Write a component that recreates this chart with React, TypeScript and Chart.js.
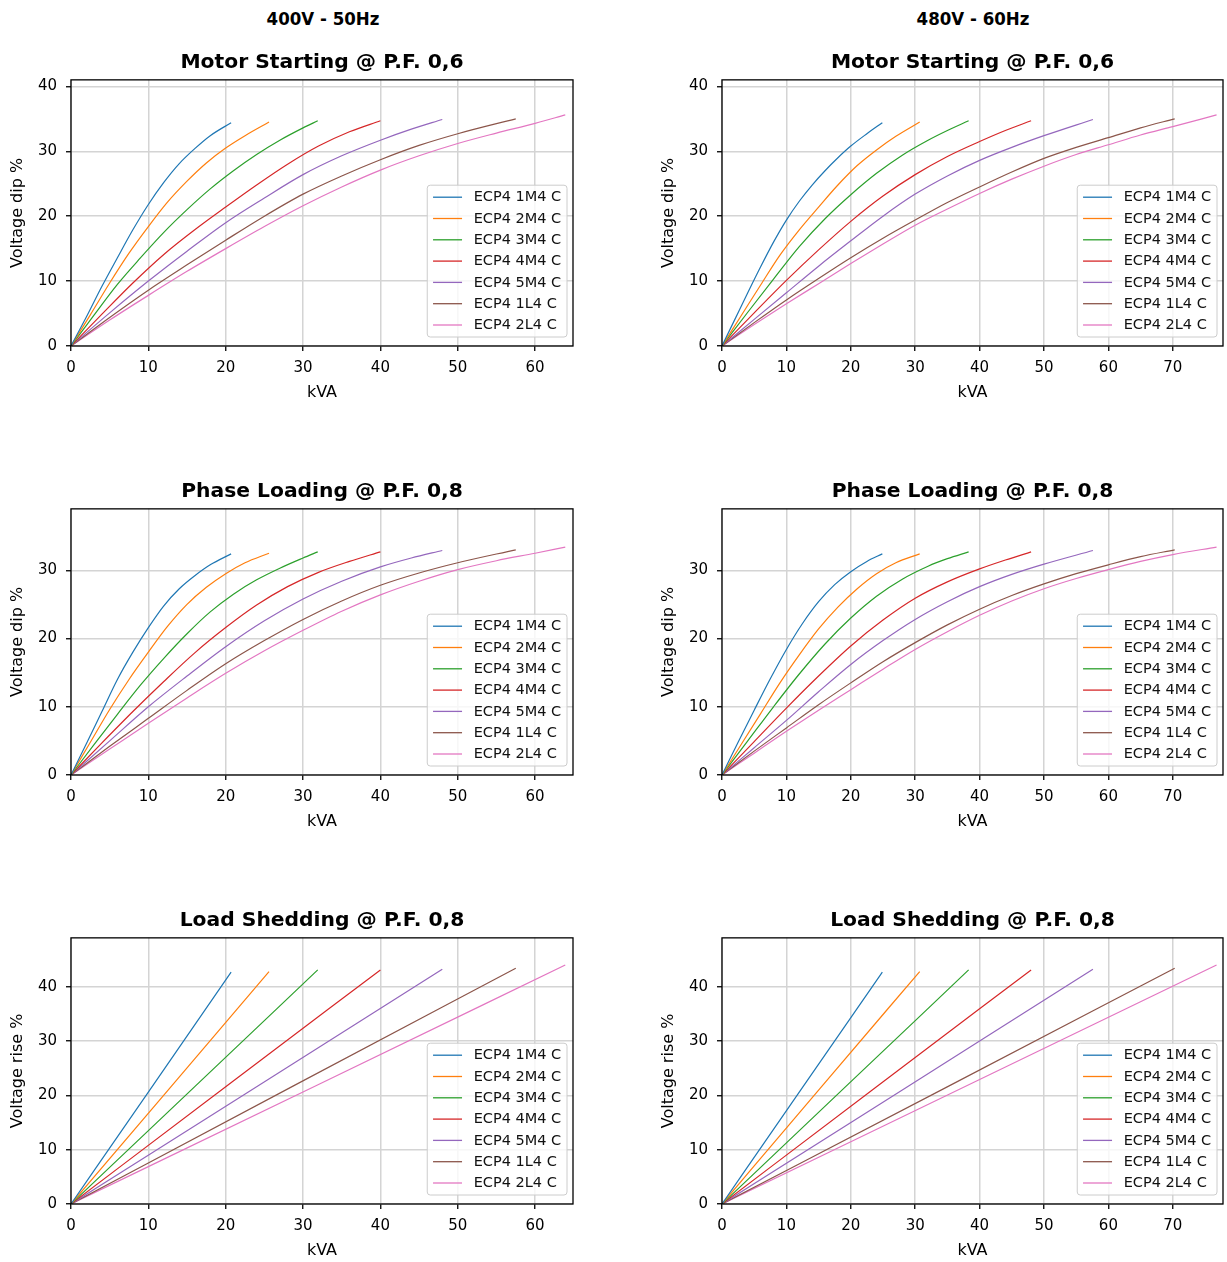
import React, { useEffect, useRef } from 'react';
import { Chart, registerables } from 'chart.js';

Chart.register(...registerables);
Chart.defaults.font.family = "'DejaVu Sans', sans-serif";

// ---------- labels / ticks ----------
const SERIES_LABELS = ['ECP4 1M4 C', 'ECP4 2M4 C', 'ECP4 3M4 C', 'ECP4 4M4 C', 'ECP4 5M4 C', 'ECP4 1L4 C', 'ECP4 2L4 C'];
const SERIES_COLORS = ['#1f77b4', '#ff7f0e', '#2ca02c', '#d62728', '#9467bd', '#8c564b', '#e377c2'];
const COLUMN_TITLES = ['400V - 50Hz', '480V - 60Hz'];
const PANEL_TITLES = ['Motor Starting @ P.F. 0,6', 'Phase Loading @ P.F. 0,8', 'Load Shedding @ P.F. 0,8'];
const Y_TITLES = ['Voltage dip %', 'Voltage dip %', 'Voltage rise %'];
const X_TITLE = 'kVA';

const X_TICKS_50 = [0, 10, 20, 30, 40, 50, 60];
const X_TICKS_60 = [0, 10, 20, 30, 40, 50, 60, 70];
const Y_TICKS_MS = [0, 10, 20, 30, 40];
const Y_TICKS_PL = [0, 10, 20, 30];
const Y_TICKS_LS = [0, 10, 20, 30, 40];
const X_MAX_50 = 64.9;
const X_MAX_60 = 77.8;
const Y_MAX_MS = 41.0;
const Y_MAX_PL = 39.0;
const Y_MAX_LS = 49.0;

// ---------- Motor starting 400V-50Hz ([kVA, %]) ----------
const ms50_1M4 = [[0, 0], [2, 4.5], [4, 9.2], [6, 13.6], [8, 17.9], [10, 21.8], [12, 25.2], [14, 28.1], [16, 30.4], [18, 32.4], [20.7, 34.4]];
const ms50_2M4 = [[0, 0], [2.5, 4.8], [5, 9.7], [7.5, 14.3], [10, 18.4], [12.5, 22.2], [15, 25.4], [17.5, 28.2], [20, 30.5], [22.5, 32.4], [25.6, 34.5]];
const ms50_3M4 = [[0, 0], [3, 4.8], [6, 9.5], [9, 13.6], [12, 17.5], [15, 21.0], [18, 24.2], [21, 27.0], [24, 29.5], [27, 31.7], [30, 33.6], [31.9, 34.7]];
const ms50_4M4 = [[0, 0], [4, 4.9], [8, 9.7], [12, 14.1], [16, 17.9], [20, 21.4], [24, 24.8], [28, 28.0], [32, 30.8], [36, 33.0], [40, 34.7]];
const ms50_5M4 = [[0, 0], [5, 5.1], [10, 10.0], [15, 14.6], [20, 19.0], [25, 22.8], [30, 26.4], [35, 29.3], [40, 31.7], [44, 33.4], [48, 34.9]];
const ms50_1L4 = [[0, 0], [5, 4.4], [10, 8.6], [15, 12.5], [20, 16.3], [25, 20.0], [30, 23.4], [35, 26.2], [40, 28.7], [45, 30.9], [50, 32.7], [57.5, 35.0]];
const ms50_2L4 = [[0, 0], [5, 4.0], [10, 7.8], [15, 11.5], [20, 15.0], [25, 18.4], [30, 21.6], [35, 24.5], [40, 27.1], [45, 29.3], [50, 31.2], [55, 32.8], [60, 34.3], [63.9, 35.6]];

// ---------- Motor starting 480V-60Hz ----------
const ms60_1M4 = [[0, 0], [2, 4.1], [4, 8.2], [6, 12.2], [8, 16.0], [10, 19.4], [12, 22.3], [14, 24.8], [16, 27.0], [18, 29.0], [20, 30.8], [22.5, 32.7], [24.9, 34.4]];
const ms60_2M4 = [[0, 0], [3, 4.7], [6, 9.4], [9, 14.0], [12, 17.9], [15, 21.4], [18, 24.8], [21, 27.8], [24, 30.2], [27, 32.3], [30.7, 34.5]];
const ms60_3M4 = [[0, 0], [4, 5.2], [8, 10.3], [12, 15.3], [16, 19.6], [20, 23.3], [24, 26.6], [28, 29.4], [32, 31.7], [35, 33.2], [38.3, 34.7]];
const ms60_4M4 = [[0, 0], [5, 5.1], [10, 10.1], [15, 14.8], [20, 19.2], [25, 23.1], [30, 26.4], [35, 29.2], [40, 31.5], [44, 33.2], [48, 34.7]];
const ms60_5M4 = [[0, 0], [5, 4.1], [10, 8.2], [15, 12.3], [20, 16.2], [25, 20.0], [30, 23.4], [35, 26.2], [40, 28.6], [45, 30.6], [50, 32.4], [57.6, 34.9]];
const ms60_1L4 = [[0, 0], [5, 3.6], [10, 7.1], [15, 10.4], [20, 13.6], [25, 16.6], [30, 19.4], [35, 22.1], [40, 24.5], [45, 26.8], [50, 28.9], [55, 30.6], [60, 32.1], [65, 33.6], [70.3, 35.0]];
const ms60_2L4 = [[0, 0], [5, 3.3], [10, 6.5], [15, 9.6], [20, 12.7], [25, 15.7], [30, 18.6], [35, 21.1], [40, 23.5], [45, 25.7], [50, 27.7], [55, 29.5], [60, 31.0], [65, 32.5], [70, 33.8], [76.8, 35.6]];

// ---------- Phase loading 400V-50Hz ----------
const pl50_1M4 = [[0, 0], [2, 4.6], [4, 9.3], [6, 14.0], [8, 18.0], [10, 21.6], [12, 24.8], [14, 27.3], [16, 29.2], [18, 30.8], [20.7, 32.4]];
const pl50_2M4 = [[0, 0], [2.5, 4.8], [5, 9.6], [7.5, 14.0], [10, 18.0], [12.5, 21.8], [15, 25.0], [17.5, 27.5], [20, 29.5], [22.5, 31.1], [25.6, 32.5]];
const pl50_3M4 = [[0, 0], [3, 4.5], [6, 8.9], [9, 13.2], [12, 17.1], [15, 20.7], [18, 23.9], [21, 26.5], [24, 28.6], [27, 30.3], [30, 31.8], [31.9, 32.7]];
const pl50_4M4 = [[0, 0], [4, 4.7], [8, 9.3], [12, 13.7], [16, 17.9], [20, 21.6], [24, 24.9], [28, 27.6], [32, 29.7], [36, 31.3], [40, 32.7]];
const pl50_5M4 = [[0, 0], [5, 5.0], [10, 10.0], [15, 14.5], [20, 18.8], [25, 22.6], [30, 25.8], [35, 28.4], [40, 30.5], [44, 31.8], [48, 32.9]];
const pl50_1L4 = [[0, 0], [5, 4.2], [10, 8.3], [15, 12.4], [20, 16.3], [25, 19.7], [30, 22.8], [35, 25.5], [40, 27.8], [45, 29.6], [50, 31.1], [57.5, 33.0]];
const pl50_2L4 = [[0, 0], [5, 3.8], [10, 7.6], [15, 11.3], [20, 14.9], [25, 18.2], [30, 21.2], [35, 24.0], [40, 26.4], [45, 28.4], [50, 30.1], [55, 31.4], [60, 32.5], [63.9, 33.4]];

// ---------- Phase loading 480V-60Hz ----------
const pl60_1M4 = [[0, 0], [2.5, 4.8], [5, 9.5], [7.5, 14.1], [10, 18.4], [12.5, 22.2], [15, 25.4], [17.5, 27.9], [20, 29.8], [22.5, 31.3], [24.9, 32.4]];
const pl60_2M4 = [[0, 0], [3, 4.5], [6, 9.0], [9, 13.5], [12, 17.6], [15, 21.4], [18, 24.6], [21, 27.3], [24, 29.5], [27, 31.1], [30.7, 32.4]];
const pl60_3M4 = [[0, 0], [4, 5.0], [8, 10.0], [12, 14.8], [16, 19.2], [20, 23.0], [24, 26.2], [28, 28.7], [32, 30.6], [35, 31.7], [38.3, 32.7]];
const pl60_4M4 = [[0, 0], [5, 4.9], [10, 9.8], [15, 14.5], [20, 18.9], [25, 22.7], [30, 25.9], [35, 28.3], [40, 30.2], [44, 31.5], [48, 32.7]];
const pl60_5M4 = [[0, 0], [5, 4.0], [10, 8.0], [15, 12.2], [20, 16.2], [25, 19.7], [30, 22.8], [35, 25.4], [40, 27.6], [45, 29.4], [50, 30.9], [57.6, 32.9]];
const pl60_1L4 = [[0, 0], [5, 3.5], [10, 6.9], [15, 10.3], [20, 13.5], [25, 16.6], [30, 19.4], [35, 22.0], [40, 24.3], [45, 26.3], [50, 28.0], [55, 29.5], [60, 30.8], [65, 32.0], [70.3, 33.0]];
const pl60_2L4 = [[0, 0], [5, 3.2], [10, 6.4], [15, 9.5], [20, 12.5], [25, 15.5], [30, 18.4], [35, 21.0], [40, 23.4], [45, 25.5], [50, 27.3], [55, 28.8], [60, 30.1], [65, 31.3], [70, 32.3], [76.8, 33.4]];

// ---------- Load shedding 400V-50Hz ----------
const ls50_1M4 = [[0, 0], [10, 20.6], [20.7, 42.7]];
const ls50_2M4 = [[0, 0], [12.8, 21.4], [25.6, 42.8]];
const ls50_3M4 = [[0, 0], [16, 21.6], [31.9, 43.1]];
const ls50_4M4 = [[0, 0], [20, 21.6], [40, 43.1]];
const ls50_5M4 = [[0, 0], [24, 21.6], [48, 43.2]];
const ls50_1L4 = [[0, 0], [28.7, 21.7], [57.5, 43.4]];
const ls50_2L4 = [[0, 0], [32, 22.0], [63.9, 44.0]];

// ---------- Load shedding 480V-60Hz ----------
const ls60_1M4 = [[0, 0], [12.4, 21.3], [24.9, 42.7]];
const ls60_2M4 = [[0, 0], [15.3, 21.4], [30.7, 42.8]];
const ls60_3M4 = [[0, 0], [19.2, 21.6], [38.3, 43.1]];
const ls60_4M4 = [[0, 0], [24, 21.6], [48, 43.1]];
const ls60_5M4 = [[0, 0], [28.8, 21.6], [57.6, 43.2]];
const ls60_1L4 = [[0, 0], [35.2, 21.7], [70.3, 43.4]];
const ls60_2L4 = [[0, 0], [38.4, 22.0], [76.8, 44.0]];

// ---------- plugin: frame + legend inside plot area ----------
const frameLegendPlugin = {
  id: 'frameLegend',
  afterDatasetsDraw(chart: any) {
    const { ctx, chartArea } = chart;
    const { left, right, top, bottom } = chartArea;
    ctx.save();
    ctx.strokeStyle = '#000';
    ctx.lineWidth = 1.3;
    ctx.strokeRect(left, top, right - left, bottom - top);

    const fs = 14.5;
    ctx.font = `${fs}px 'DejaVu Sans', sans-serif`;
    const labels: string[] = chart.data.datasets.map((d: any) => d.label);
    const textW = Math.max(...labels.map((l) => ctx.measureText(l).width));
    const pad = 0.4 * fs;
    const handle = 2 * fs;
    const gap = 0.8 * fs;
    const rowH = 21.3;
    const edge = 12;
    const w = pad * 2 + handle + gap + textW;
    const h = edge * 2 + rowH * (labels.length - 1);
    const x0 = right - 6 - w;
    const y0 = bottom - 9 - h;
    const r = 3;
    ctx.beginPath();
    ctx.moveTo(x0 + r, y0);
    ctx.lineTo(x0 + w - r, y0);
    ctx.arcTo(x0 + w, y0, x0 + w, y0 + r, r);
    ctx.lineTo(x0 + w, y0 + h - r);
    ctx.arcTo(x0 + w, y0 + h, x0 + w - r, y0 + h, r);
    ctx.lineTo(x0 + r, y0 + h);
    ctx.arcTo(x0, y0 + h, x0, y0 + h - r, r);
    ctx.lineTo(x0, y0 + r);
    ctx.arcTo(x0, y0, x0 + r, y0, r);
    ctx.closePath();
    ctx.fillStyle = 'rgba(255,255,255,0.8)';
    ctx.fill();
    ctx.strokeStyle = '#cccccc';
    ctx.lineWidth = 1;
    ctx.stroke();

    ctx.textBaseline = 'middle';
    ctx.textAlign = 'left';
    chart.data.datasets.forEach((d: any, i: number) => {
      const y = y0 + edge + i * rowH;
      ctx.strokeStyle = d.borderColor;
      ctx.lineWidth = 1.3;
      ctx.beginPath();
      ctx.moveTo(x0 + pad, y);
      ctx.lineTo(x0 + pad + handle, y);
      ctx.stroke();
      ctx.fillStyle = '#111';
      ctx.fillText(d.label, x0 + pad + handle + gap, y + 0.5);
    });
    ctx.restore();
  },
};

type PanelProps = {
  left: number;
  top: number;
  width: number;
  height: number;
  padRight: number;
  title: string;
  yTitle: string;
  xTicks: number[];
  xMax: number;
  yTicks: number[];
  yMax: number;
  series: number[][][];
};

function Panel(p: PanelProps) {
  const ref = useRef<HTMLCanvasElement>(null);
  useEffect(() => {
    if (!ref.current) return;
    const gridCommon = {
      color: '#d4d4d4',
      lineWidth: 1.5,
      tickColor: '#000',
      tickLength: 5,
      tickWidth: 1.3,
      drawTicks: true,
    };
    const chart = new Chart(ref.current, {
      type: 'line',
      data: {
        datasets: p.series.map((pts, i) => ({
          label: SERIES_LABELS[i],
          data: pts.map(([x, y]) => ({ x, y })),
          borderColor: SERIES_COLORS[i],
          backgroundColor: SERIES_COLORS[i],
          borderWidth: 1.2,
          pointRadius: 0,
          fill: false,
          cubicInterpolationMode: 'monotone' as const,
        })),
      },
      options: {
        responsive: false,
        maintainAspectRatio: false,
        animation: false,
        events: [],
        layout: { padding: { left: 0, right: p.padRight, top: 0, bottom: 0 } },
        plugins: {
          legend: { display: false },
          tooltip: { enabled: false },
          title: {
            display: true,
            text: p.title,
            fullSize: false,
            color: '#000',
            font: { size: 20.3, weight: 'bold', lineHeight: 1.2 },
            padding: { top: 20.5, bottom: 5 },
          },
        },
        scales: {
          x: {
            type: 'linear',
            min: 0,
            max: p.xMax,
            afterBuildTicks: (s: any) => {
              s.ticks = p.xTicks.map((v) => ({ value: v }));
            },
            afterFit: (s: any) => {
              s.height = 56;
            },
            grid: gridCommon,
            border: { display: false },
            ticks: { color: '#000', font: { size: 15 }, padding: 8, maxRotation: 0, autoSkip: false },
            title: { display: true, text: X_TITLE, color: '#000', font: { size: 16 }, padding: { top: 0, bottom: 0 } },
          },
          y: {
            type: 'linear',
            min: 0,
            max: p.yMax,
            afterBuildTicks: (s: any) => {
              s.ticks = p.yTicks.map((v) => ({ value: v }));
            },
            afterFit: (s: any) => {
              s.width = 71;
            },
            grid: gridCommon,
            border: { display: false },
            ticks: { color: '#000', font: { size: 15 }, padding: 9, autoSkip: false },
            title: { display: true, text: p.yTitle, color: '#000', font: { size: 16 }, padding: { top: 8.4, bottom: 0 } },
          },
        },
      },
      plugins: [frameLegendPlugin],
    } as any);
    return () => chart.destroy();
  }, []);
  return (
    <canvas
      ref={ref}
      width={p.width}
      height={p.height}
      style={{ position: 'absolute', left: p.left, top: p.top, width: p.width, height: p.height }}
    />
  );
}

const LEFT_SERIES = [
  [ms50_1M4, ms50_2M4, ms50_3M4, ms50_4M4, ms50_5M4, ms50_1L4, ms50_2L4],
  [pl50_1M4, pl50_2M4, pl50_3M4, pl50_4M4, pl50_5M4, pl50_1L4, pl50_2L4],
  [ls50_1M4, ls50_2M4, ls50_3M4, ls50_4M4, ls50_5M4, ls50_1L4, ls50_2L4],
];
const RIGHT_SERIES = [
  [ms60_1M4, ms60_2M4, ms60_3M4, ms60_4M4, ms60_5M4, ms60_1L4, ms60_2L4],
  [pl60_1M4, pl60_2M4, pl60_3M4, pl60_4M4, pl60_5M4, pl60_1L4, pl60_2L4],
  [ls60_1M4, ls60_2M4, ls60_3M4, ls60_4M4, ls60_5M4, ls60_1L4, ls60_2L4],
];
const Y_TICKS_ROWS = [Y_TICKS_MS, Y_TICKS_PL, Y_TICKS_LS];
const Y_MAX_ROWS = [Y_MAX_MS, Y_MAX_PL, Y_MAX_LS];
const ROW_TOPS = [30, 459, 888];

export default function App() {
  const headerStyle = (cx: number): React.CSSProperties => ({
    position: 'absolute',
    left: cx,
    top: 7,
    transform: 'translateX(-50%)',
    fontFamily: "'DejaVu Sans Condensed', 'DejaVu Sans', sans-serif",
    fontStretch: 'condensed',
    fontWeight: 'bold',
    fontSize: 18.5,
    lineHeight: '24px',
    color: '#000',
    whiteSpace: 'nowrap',
  });
  return (
    <div style={{ position: 'absolute', left: 0, top: 0, width: 1227, height: 1262, overflow: 'hidden', background: '#fff' }}>
      <div style={headerStyle(323)}>{COLUMN_TITLES[0]}</div>
      <div style={headerStyle(973)}>{COLUMN_TITLES[1]}</div>
      {ROW_TOPS.map((top, r) => (
        <React.Fragment key={r}>
          <Panel
            left={0}
            top={top}
            width={612}
            height={372}
            padRight={39}
            title={PANEL_TITLES[r]}
            yTitle={Y_TITLES[r]}
            xTicks={X_TICKS_50}
            xMax={X_MAX_50}
            yTicks={Y_TICKS_ROWS[r]}
            yMax={Y_MAX_ROWS[r]}
            series={LEFT_SERIES[r]}
          />
          <Panel
            left={651}
            top={top}
            width={576}
            height={372}
            padRight={4}
            title={PANEL_TITLES[r]}
            yTitle={Y_TITLES[r]}
            xTicks={X_TICKS_60}
            xMax={X_MAX_60}
            yTicks={Y_TICKS_ROWS[r]}
            yMax={Y_MAX_ROWS[r]}
            series={RIGHT_SERIES[r]}
          />
        </React.Fragment>
      ))}
    </div>
  );
}
